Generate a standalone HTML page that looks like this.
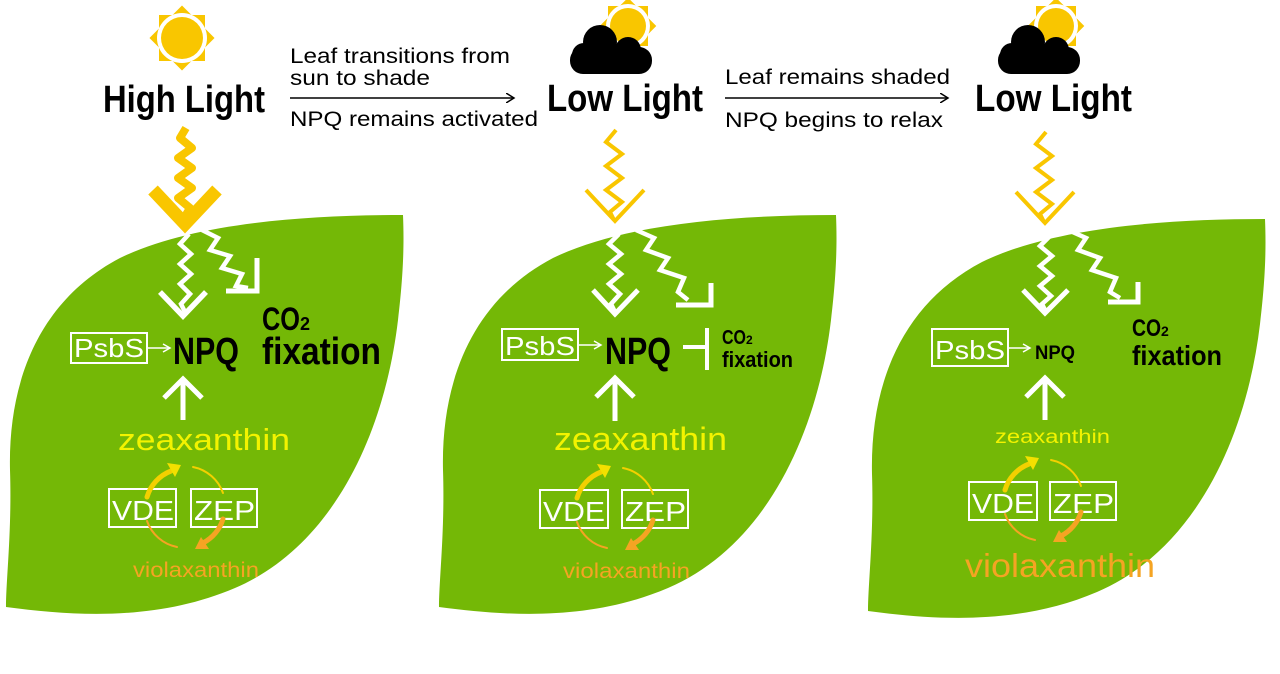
<!DOCTYPE html>
<html><head><meta charset="utf-8"><style>
html,body{margin:0;padding:0;background:#fff;}
svg{display:block;}
text{font-family:"Liberation Sans",sans-serif;}
.t{font-family:"Liberation Sans Narrow","Liberation Sans",sans-serif;font-weight:bold;}
</style></head><body>
<svg width="1280" height="674" viewBox="0 0 1280 674" xmlns="http://www.w3.org/2000/svg">
<defs>
<path id="leaf" d="M403,215 C300,215 190,224 120,258 C40,300 8,380 10,470 C12,530 6,580 6,607 C80,617 160,620 235,588 C335,545 385,430 398,320 C404,270 404,240 403,215 Z"/>
<g id="sun">
<rect x="-23" y="-23" width="46" height="46" fill="#f9c600"/>
<rect x="-23" y="-23" width="46" height="46" fill="#f9c600" transform="rotate(45)"/>
<circle r="25" fill="#fff"/>
<circle r="21" fill="#f9c600"/>
</g>
<g id="sun2">
<rect x="-20" y="-20" width="40" height="40" fill="#f9c600"/>
<rect x="-20" y="-20" width="40" height="40" fill="#f9c600" transform="rotate(45)"/>
<circle r="22" fill="#fff"/>
<circle r="18" fill="#f9c600"/>
</g>
<g id="cloud" fill="#000">
<rect x="0" y="22" width="82" height="27" rx="13"/>
<circle cx="30" cy="17" r="17"/>
<circle cx="58" cy="25" r="13"/>
<circle cx="14" cy="30" r="12"/>
</g>
<marker id="ah" markerWidth="10" markerHeight="10" refX="8" refY="5" orient="auto" markerUnits="userSpaceOnUse">
<path d="M0,0 L8,5 L0,10" fill="none" stroke="#000" stroke-width="1.5"/>
</marker>
<marker id="wh" markerWidth="10" markerHeight="10" refX="8" refY="5" orient="auto" markerUnits="userSpaceOnUse">
<path d="M1,1 L8,5 L1,9" fill="none" stroke="#fff" stroke-width="1.5"/>
</marker>
</defs>

<use href="#leaf" fill="#74b806"/>
<use href="#leaf" fill="#74b806" transform="translate(433,0)"/>
<use href="#leaf" fill="#74b806" transform="translate(862,4)"/>

<use href="#sun" transform="translate(182,38)"/>
<use href="#sun2" transform="translate(628,26)"/>
<use href="#cloud" transform="translate(570,25)"/>
<use href="#sun2" transform="translate(1056,26)"/>
<use href="#cloud" transform="translate(998,25)"/>

<text class="t" x="103" y="112" font-size="38" textLength="162" lengthAdjust="spacingAndGlyphs">High Light</text>
<text class="t" x="547" y="111" font-size="38" textLength="156" lengthAdjust="spacingAndGlyphs">Low Light</text>
<text class="t" x="975" y="111" font-size="38" textLength="157" lengthAdjust="spacingAndGlyphs">Low Light</text>

<text x="290" y="63" font-size="21" textLength="220" lengthAdjust="spacingAndGlyphs">Leaf transitions from</text>
<text x="290" y="85" font-size="21" textLength="140" lengthAdjust="spacingAndGlyphs">sun to shade</text>
<line x1="290" y1="98" x2="514" y2="98" stroke="#000" stroke-width="1.5" marker-end="url(#ah)"/>
<text x="290" y="126" font-size="21" textLength="248" lengthAdjust="spacingAndGlyphs">NPQ remains activated</text>
<text x="725" y="84" font-size="21" textLength="225" lengthAdjust="spacingAndGlyphs">Leaf remains shaded</text>
<line x1="725" y1="98" x2="948" y2="98" stroke="#000" stroke-width="1.5" marker-end="url(#ah)"/>
<text x="725" y="127" font-size="21" textLength="218" lengthAdjust="spacingAndGlyphs">NPQ begins to relax</text>

<g fill="none" stroke="#f9c600" stroke-linejoin="round">
<polyline stroke-width="8" points="186,128 180,138 192,148 178,158 192,168 178,178 192,188 178,198 190,208 184,218"/>
<polyline stroke-width="13" stroke-linejoin="miter" points="153,190 185,224 217,190"/>
<polyline stroke-width="4" stroke-linejoin="miter" points="616,130 606,142 622,154 606,166 622,178 606,190 622,202 610,212 614,220"/>
<polyline stroke-width="4" stroke-linejoin="miter" points="586,190 615,221 644,190"/>
<polyline stroke-width="4" stroke-linejoin="miter" points="1046,132 1036,144 1052,156 1036,168 1052,180 1036,192 1052,204 1040,214 1044,222"/>
<polyline stroke-width="4" stroke-linejoin="miter" points="1016,192 1045,223 1074,192"/>
</g>

<g fill="none" stroke="#fff" stroke-width="4.5">
<polyline points="189,234 180,244 191,254 180,264 191,274 180,284 190,294 181,304 185,312"/>
<polyline stroke-width="5.5" points="160,292 183,316 206,292"/>
<polyline points="202,230 218,238 210,250 230,256 222,268 242,274 236,286 248,288"/>
<polyline stroke-width="5" points="226,291 257,291 257,258"/>
<line x1="183" y1="420" x2="183" y2="381" stroke-width="5"/>
<polyline stroke-width="5" points="164,398 183,379 202,398"/>
<polyline points="619,234 609,244 621,254 609,264 621,274 609,284 620,294 611,304 615,312"/>
<polyline stroke-width="5" points="593,290 615,314 638,290"/>
<polyline points="636,230 654,238 646,250 668,258 660,270 684,278 678,292 688,300"/>
<polyline stroke-width="5" points="676,305 711,305 711,283"/>
<line x1="615" y1="421" x2="615" y2="378" stroke-width="5"/>
<polyline stroke-width="5" points="596,397 615,378 634,397"/>
<line x1="683" y1="347" x2="706" y2="347" stroke-width="4"/>
<line x1="707" y1="328" x2="707" y2="370" stroke-width="4"/>
<polyline points="1050,236 1040,246 1052,256 1040,266 1052,276 1040,286 1051,296 1042,304 1045,310"/>
<polyline stroke-width="5" points="1023,290 1045,313 1068,290"/>
<polyline points="1068,230 1086,238 1078,250 1100,258 1092,270 1116,278 1110,292 1120,298"/>
<polyline stroke-width="5" points="1108,302 1138,302 1138,282"/>
<line x1="1045" y1="420" x2="1045" y2="380" stroke-width="5"/>
<polyline stroke-width="5" points="1026,397 1045,378 1064,397"/>
</g>

<g fill="none" stroke="#fff" stroke-width="2">
<rect x="71" y="333" width="76" height="30"/>
<rect x="502" y="329" width="76" height="31"/>
<rect x="932" y="329" width="76" height="37"/>
<rect x="109" y="489" width="67" height="38"/>
<rect x="191" y="489" width="66" height="38"/>
<rect x="540" y="490" width="68" height="38"/>
<rect x="622" y="490" width="66" height="38"/>
<rect x="969" y="482" width="68" height="38"/>
<rect x="1050" y="482" width="66" height="38"/>
</g>
<g fill="#fff" font-size="26">
<text x="74" y="357" textLength="70" lengthAdjust="spacingAndGlyphs">PsbS</text>
<text x="505" y="355" textLength="70" lengthAdjust="spacingAndGlyphs">PsbS</text>
<text x="935" y="359" textLength="70" lengthAdjust="spacingAndGlyphs">PsbS</text>
<text x="112" y="520" font-size="28" textLength="62" lengthAdjust="spacingAndGlyphs">VDE</text>
<text x="194" y="520" font-size="28" textLength="61" lengthAdjust="spacingAndGlyphs">ZEP</text>
<text x="543" y="521" font-size="28" textLength="62" lengthAdjust="spacingAndGlyphs">VDE</text>
<text x="625" y="521" font-size="28" textLength="61" lengthAdjust="spacingAndGlyphs">ZEP</text>
<text x="972" y="513" font-size="28" textLength="62" lengthAdjust="spacingAndGlyphs">VDE</text>
<text x="1053" y="513" font-size="28" textLength="61" lengthAdjust="spacingAndGlyphs">ZEP</text>
</g>
<g stroke="#fff" stroke-width="1.5">
<line x1="148" y1="348" x2="170" y2="348" marker-end="url(#wh)"/>
<line x1="579" y1="345" x2="601" y2="345" marker-end="url(#wh)"/>
<line x1="1009" y1="348" x2="1030" y2="348" marker-end="url(#wh)"/>
</g>

<g class="t" fill="#000">
<text x="173" y="364" font-size="38" textLength="66" lengthAdjust="spacingAndGlyphs">NPQ</text>
<text x="262" y="330" font-size="32" textLength="38" lengthAdjust="spacingAndGlyphs">CO</text>
<text x="300" y="330" font-size="18">2</text>
<text x="262" y="364" font-size="38" textLength="119" lengthAdjust="spacingAndGlyphs">fixation</text>
<text x="605" y="364" font-size="38" textLength="66" lengthAdjust="spacingAndGlyphs">NPQ</text>
<text x="722" y="344" font-size="20" textLength="24" lengthAdjust="spacingAndGlyphs">CO</text>
<text x="746" y="344" font-size="12">2</text>
<text x="722" y="367" font-size="22" textLength="71" lengthAdjust="spacingAndGlyphs">fixation</text>
<text x="1035" y="359" font-size="19" textLength="40" lengthAdjust="spacingAndGlyphs">NPQ</text>
<text x="1132" y="336" font-size="24" textLength="29" lengthAdjust="spacingAndGlyphs">CO</text>
<text x="1161" y="336" font-size="14">2</text>
<text x="1132" y="365" font-size="28" textLength="90" lengthAdjust="spacingAndGlyphs">fixation</text>
</g>

<g fill="#f3f300">
<text x="118" y="450" font-size="31" textLength="172" lengthAdjust="spacingAndGlyphs">zeaxanthin</text>
<text x="554" y="450" font-size="32" textLength="173" lengthAdjust="spacingAndGlyphs">zeaxanthin</text>
<text x="995" y="443" font-size="19" textLength="115" lengthAdjust="spacingAndGlyphs">zeaxanthin</text>
</g>
<g fill="#f5a423">
<text x="133" y="577" font-size="21" textLength="126" lengthAdjust="spacingAndGlyphs">violaxanthin</text>
<text x="563" y="578" font-size="21" textLength="127" lengthAdjust="spacingAndGlyphs">violaxanthin</text>
<text x="965" y="577" font-size="33" textLength="190" lengthAdjust="spacingAndGlyphs">violaxanthin</text>
</g>

<g fill="none" stroke-linecap="round">
<g transform="translate(185,507)">
<path d="M-38,-10 A40,40 0 0 1 -14,-36" stroke="#f3d000" stroke-width="5"/>
<polygon points="-4,-42 -18,-44 -10,-30" fill="#f3e000" stroke="none"/>
<path d="M8,-40 A40,40 0 0 1 38,-14" stroke="#f3d000" stroke-width="2"/>
<path d="M38,12 A40,40 0 0 1 18,36" stroke="#f5a423" stroke-width="5"/>
<polygon points="10,42 24,42 16,30" fill="#f5a423" stroke="none"/>
<path d="M-8,40 A40,40 0 0 1 -38,14" stroke="#f5a423" stroke-width="2"/>
</g>
<g transform="translate(615,508)">
<path d="M-38,-10 A40,40 0 0 1 -14,-36" stroke="#f3d000" stroke-width="5"/>
<polygon points="-4,-42 -18,-44 -10,-30" fill="#f3e000" stroke="none"/>
<path d="M8,-40 A40,40 0 0 1 38,-14" stroke="#f3d000" stroke-width="2"/>
<path d="M38,12 A40,40 0 0 1 18,36" stroke="#f5a423" stroke-width="5"/>
<polygon points="10,42 24,42 16,30" fill="#f5a423" stroke="none"/>
<path d="M-8,40 A40,40 0 0 1 -38,14" stroke="#f5a423" stroke-width="2"/>
</g>
<g transform="translate(1043,500)">
<path d="M-38,-10 A40,40 0 0 1 -14,-36" stroke="#f3d000" stroke-width="5"/>
<polygon points="-4,-42 -18,-44 -10,-30" fill="#f3e000" stroke="none"/>
<path d="M8,-40 A40,40 0 0 1 38,-14" stroke="#f3d000" stroke-width="2"/>
<path d="M38,12 A40,40 0 0 1 18,36" stroke="#f5a423" stroke-width="5"/>
<polygon points="10,42 24,42 16,30" fill="#f5a423" stroke="none"/>
<path d="M-8,40 A40,40 0 0 1 -38,14" stroke="#f5a423" stroke-width="2"/>
</g>
</g>
</svg>
</body></html>
